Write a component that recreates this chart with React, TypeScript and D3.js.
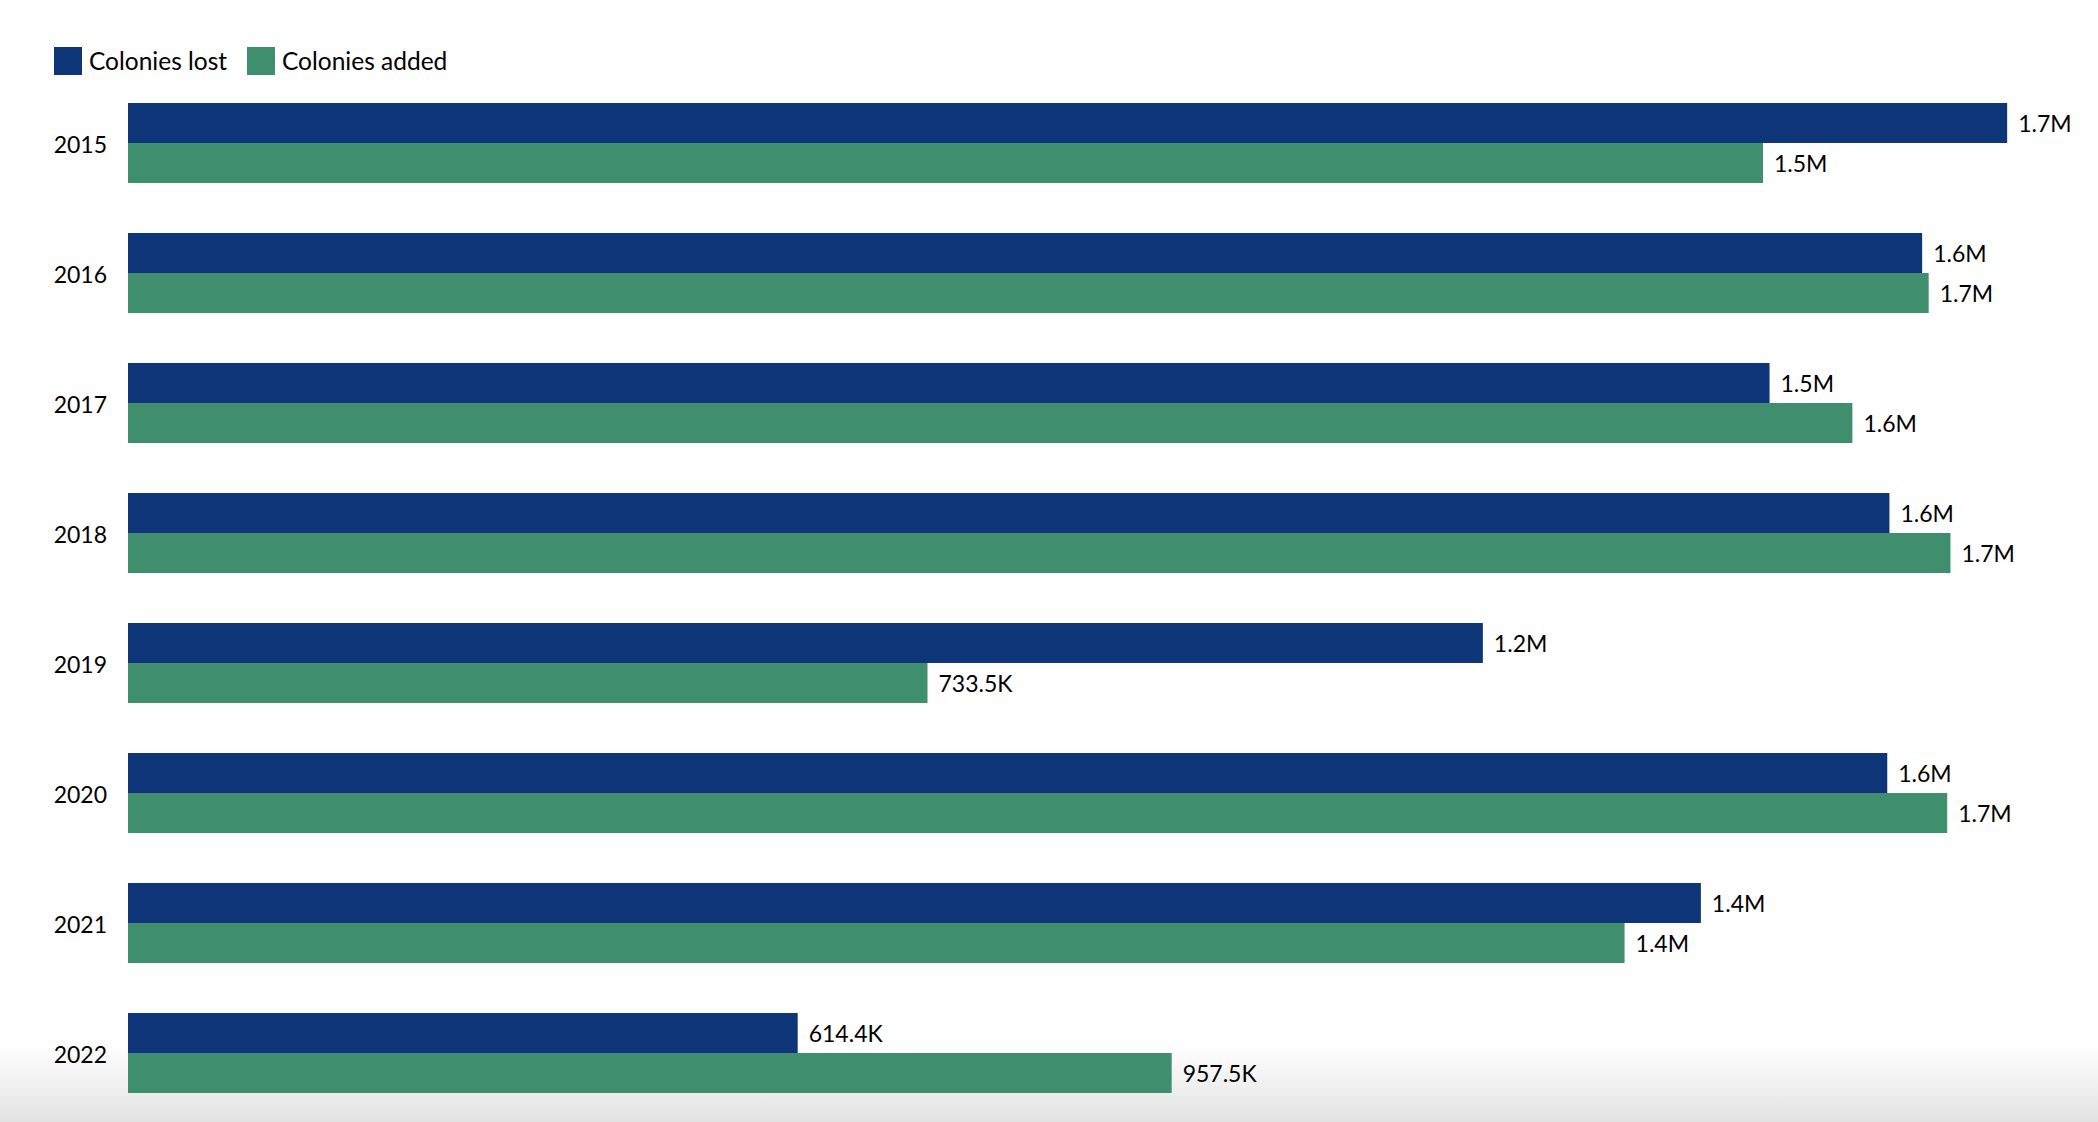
import React, { useEffect, useRef } from 'react';
import * as d3 from 'd3';

const years = ['2015', '2016', '2017', '2018', '2019', '2020', '2021', '2022'];
const coloniesLost = [1724000, 1646000, 1506000, 1616000, 1243000, 1614000, 1443000, 614400];
const coloniesAdded = [1500000, 1652000, 1582000, 1672000, 733500, 1669000, 1373000, 957500];
const seriesNames = ['Colonies lost', 'Colonies added'];
const seriesColors = ['#0e3578', '#3f8f6f'];

const formatValue = (v: number) =>
  v >= 1e6 ? `${(v / 1e6).toFixed(1)}M` : `${(v / 1e3).toFixed(1)}K`;

const ColoniesChart: React.FC = () => {
  const chartRef = useRef<SVGSVGElement | null>(null);

  useEffect(() => {
    if (!chartRef.current) return;
    const svg = d3.select(chartRef.current);
    svg.selectAll('*').remove();

    const width = 2098;
    const height = 1122;
    const font = 'Lato, "Noto Sans", sans-serif';

    svg.attr('width', width).attr('height', height);

    // soft grey shadow along the bottom edge
    const defs = svg.append('defs');
    const grad = defs.append('linearGradient')
      .attr('id', 'bottomShade')
      .attr('x1', 0).attr('y1', 0).attr('x2', 0).attr('y2', 1);
    grad.append('stop').attr('offset', '0%').attr('stop-color', '#ffffff');
    grad.append('stop').attr('offset', '100%').attr('stop-color', '#e2e2e2');
    svg.append('rect')
      .attr('x', 0).attr('y', 1045)
      .attr('width', width).attr('height', height - 1045)
      .attr('fill', 'url(#bottomShade)');

    const x = d3.scaleLinear()
      .domain([0, 1800000])
      .range([128, 128 + 1.8 * 1090]);

    const y = d3.scaleBand()
      .domain(years)
      .range([78, 78 + years.length * 130])
      .paddingInner(50 / 130)
      .paddingOuter(25 / 130);

    const sub = d3.scaleBand()
      .domain(seriesNames)
      .range([0, y.bandwidth()]);

    const rows = years.map((yr, i) => ({ year: yr, values: [coloniesLost[i], coloniesAdded[i]] }));

    const g = svg.append('g');

    const row = g.selectAll('g.row')
      .data(rows)
      .enter()
      .append('g')
      .attr('class', 'row')
      .attr('transform', (d) => `translate(0,${y(d.year)})`);

    row.selectAll('rect')
      .data((d) => d.values.map((v, j) => ({ v, name: seriesNames[j], color: seriesColors[j] })))
      .enter()
      .append('rect')
      .attr('x', x(0))
      .attr('y', (d) => sub(d.name) as number)
      .attr('width', (d) => x(d.v) - x(0))
      .attr('height', sub.bandwidth())
      .attr('fill', (d) => d.color);

    row.selectAll('text.val')
      .data((d) => d.values.map((v, j) => ({ v, name: seriesNames[j] })))
      .enter()
      .append('text')
      .attr('class', 'val')
      .attr('x', (d) => x(d.v) + 11)
      .attr('y', (d) => (sub(d.name) as number) + sub.bandwidth() / 2)
      .attr('dy', '0.4em')
      .attr('font-family', font)
      .attr('font-size', 23)
      .attr('fill', '#000')
      .text((d) => formatValue(d.v));

    // year labels
    const axis = d3.axisLeft(y).tickSize(0).tickPadding(0);
    const ax = svg.append('g').attr('transform', 'translate(107,0)').call(axis);
    ax.select('.domain').remove();
    ax.selectAll('text')
      .attr('font-family', font)
      .attr('font-size', 23)
      .attr('fill', '#000')
      .attr('dy', '0.45em');

    // legend
    const legendX = [54, 247];
    const legend = svg.append('g')
      .selectAll('g')
      .data(seriesNames)
      .enter()
      .append('g')
      .attr('transform', (d, i) => `translate(${legendX[i]},47)`);
    legend.append('rect')
      .attr('width', 28)
      .attr('height', 28)
      .attr('fill', (d, i) => seriesColors[i]);
    legend.append('text')
      .attr('x', 35)
      .attr('y', 14)
      .attr('dy', '0.38em')
      .attr('font-family', font)
      .attr('font-size', 24.5)
      .attr('fill', '#000')
      .text((d) => d);
  }, []);

  return <svg ref={chartRef}></svg>;
};

export default function App() {
  return (
    <div style={{ position: 'absolute', left: 0, top: 0 }}>
      <ColoniesChart />
    </div>
  );
}
